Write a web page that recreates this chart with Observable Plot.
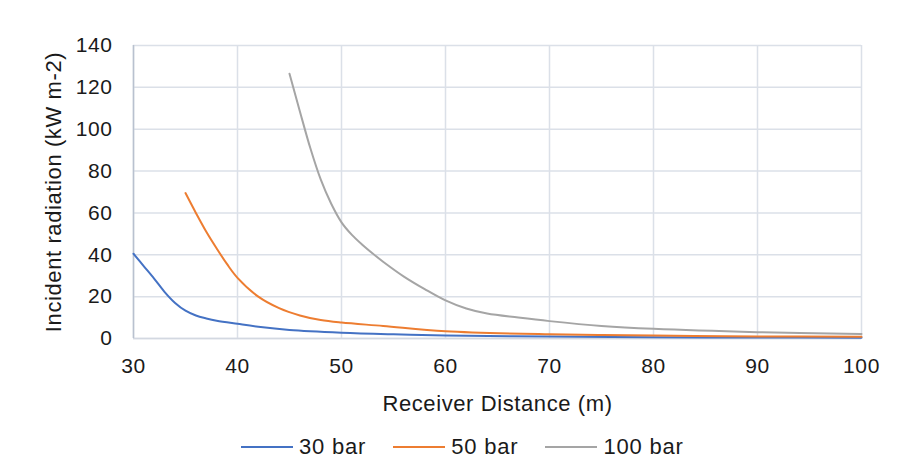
<!DOCTYPE html>
<html><head><meta charset="utf-8">
<script src="https://cdn.jsdelivr.net/npm/d3@7"></script>
<script src="https://cdn.jsdelivr.net/npm/@observablehq/plot@0.6"></script>
<style>
body{margin:0;background:#fff;font-family:"Liberation Sans",Arial,sans-serif;}
#chart{position:relative;width:897px;height:458px;overflow:hidden;}
#chart svg text{letter-spacing:0.6px;}
#legend{position:absolute;left:241px;top:435px;height:24px;display:flex;align-items:center;font-size:22px;letter-spacing:0.8px;color:#1a1a1a;font-family:"Liberation Sans",Arial,sans-serif;}
.item{display:flex;align-items:center;margin-right:27px;}
.sw{width:52px;height:2px;margin-right:6px;}
</style></head>
<body>
<div id="chart"></div>
<script>
// Series data
const seriesNames = ["30 bar", "50 bar", "100 bar"];
const seriesColors = ["#4472C4", "#ED7D31", "#A5A5A5"];

const dist30 = [30, 31, 32, 33, 34, 35, 36, 37, 38, 40, 42, 45, 50, 55, 60, 70, 80, 90, 100];
const rad30  = [40.5, 34.5, 28.5, 22.2, 17, 13.3, 11, 9.6, 8.5, 7, 5.6, 4.1, 2.8, 2.0, 1.4, 0.9, 0.6, 0.5, 0.4];

const dist50 = [35, 36, 37, 38, 39, 40, 42, 44, 46, 48, 50, 54, 60, 70, 80, 90, 100];
const rad50  = [69.5, 60, 51, 43, 35.5, 29, 20, 14.5, 11, 8.8, 7.6, 6.0, 3.5, 2.0, 1.4, 1.0, 0.8];

const dist100 = [45, 46, 47, 48, 49, 50, 51, 52, 53, 54, 56, 58, 60, 62, 64, 67, 70, 75, 80, 90, 100];
const rad100  = [126.5, 108.5, 91, 76, 64.5, 55.5, 49.5, 44.8, 40.6, 36.7, 29.6, 23.6, 18.2, 14.3, 11.9, 10, 8.3, 6, 4.6, 3.0, 2.1];

const xTicks = [30, 40, 50, 60, 70, 80, 90, 100];
const yTicks = [0, 20, 40, 60, 80, 100, 120, 140];
const xTitle = "Receiver Distance (m)";
const yTitle = "Incident radiation (kW m-2)";

const rows = [];
[[dist30, rad30], [dist50, rad50], [dist100, rad100]].forEach(([xs, ys], i) => {
  xs.forEach((d, j) => rows.push({series: seriesNames[i], x: d, y: ys[j]}));
});

const textColor = "#1a1a1a";
const plot = Plot.plot({
  width: 897,
  height: 425,
  marginLeft: 133,
  marginRight: 36,
  marginTop: 45,
  marginBottom: 87,
  style: {fontFamily: "'Liberation Sans', Arial, sans-serif", fontSize: "21px", color: textColor, background: "#fff"},
  x: {domain: [30, 100]},
  y: {domain: [0, 140]},
  color: {domain: seriesNames, range: seriesColors},
  marks: [
    Plot.gridX(xTicks, {stroke: "#dbe0e8", strokeOpacity: 1, strokeWidth: 1.5}),
    Plot.gridY(yTicks, {stroke: "#dbe0e8", strokeOpacity: 1, strokeWidth: 1.5}),
    Plot.ruleY([0], {stroke: "#d3d8e1", strokeWidth: 1.5}),
    Plot.ruleX([30], {stroke: "#b9c1cf", strokeWidth: 1.5}),
    Plot.line(rows, {x: "x", y: "y", z: "series", stroke: "series", strokeWidth: 2, curve: "catmull-rom"}),
    Plot.axisX(xTicks, {tickSize: 0, tickPadding: 20, label: null, fontSize: 21, fill: textColor}),
    Plot.axisY(yTicks, {tickSize: 0, tickPadding: 21, label: null, fontSize: 21, fill: textColor}),
    Plot.text([xTitle], {frameAnchor: "bottom", dy: 65, lineAnchor: "middle", textAnchor: "middle", fontSize: 22, fill: textColor, text: d => d}),
    Plot.text([yTitle], {frameAnchor: "left", dx: -80, rotate: -90, lineAnchor: "middle", textAnchor: "middle", fontSize: 22, fill: textColor, text: d => d})
  ]
});
const chart = document.getElementById("chart");
chart.appendChild(plot);

const legend = document.createElement("div");
legend.id = "legend";
seriesNames.forEach((name, i) => {
  const item = document.createElement("div");
  item.className = "item";
  const sw = document.createElement("div");
  sw.className = "sw";
  sw.style.background = seriesColors[i];
  const lab = document.createElement("span");
  lab.textContent = name;
  item.appendChild(sw);
  item.appendChild(lab);
  legend.appendChild(item);
});
chart.appendChild(legend);
</script>
</body></html>
